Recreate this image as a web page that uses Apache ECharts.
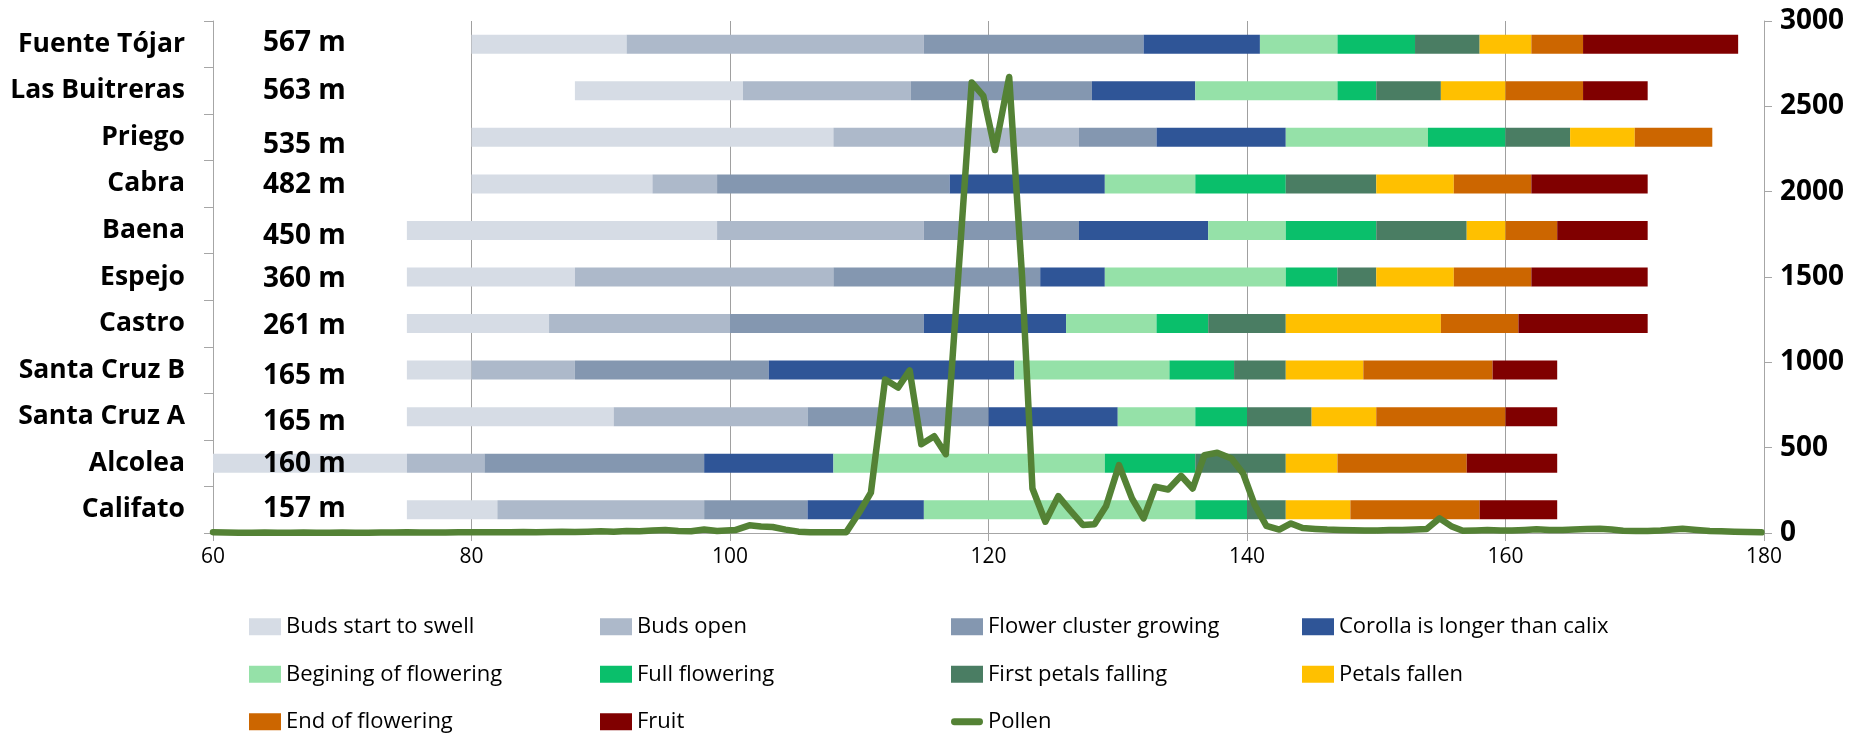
<!DOCTYPE html>
<html><head><meta charset="utf-8">
<script src="https://cdn.jsdelivr.net/npm/echarts@6/dist/echarts.min.js"></script>
<style>html,body{margin:0;padding:0;background:#fff}#c{width:1870px;height:733px}</style>
</head><body><div id="c"></div>
<script>
// ---- data ----
const sites = ['Fuente Tójar','Las Buitreras','Priego','Cabra','Baena','Espejo','Castro','Santa Cruz B','Santa Cruz A','Alcolea','Califato'];
const altitudes = ['567 m','563 m','535 m','482 m','450 m','360 m','261 m','165 m','165 m','160 m','157 m'];
const startDay = [80, 88, 80, 80, 75, 75, 75, 75, 75, 55, 75];
const stageNames = ['Buds start to swell','Buds open','Flower cluster growing','Corolla is longer than calix','Begining of flowering','Full flowering','First petals falling','Petals fallen','End of flowering','Fruit'];
const budsSwell      = [12,13,28,14,24,13,11, 5,16,20, 7];
const budsOpen       = [23,13,19, 5,16,20,14, 8,15, 6,16];
const clusterGrowing = [17,14, 6,18,12,16,15,15,14,17, 8];
const corollaLonger  = [ 9, 8,10,12,10, 5,11,19,10,10, 9];
const beginFlowering = [ 6,11,11, 7, 6,14, 7,12, 6,21,21];
const fullFlowering  = [ 6, 3, 6, 7, 7, 4, 4, 5, 4, 7, 4];
const firstPetals    = [ 5, 5, 5, 7, 7, 3, 6, 4, 5, 7, 3];
const petalsFallen   = [ 4, 5, 5, 6, 3, 6,12, 6, 5, 4, 5];
const endFlowering   = [ 4, 6, 6, 6, 4, 6, 6,10,10,10,10];
const fruit          = [12, 5, 0, 9, 7, 9,10, 5, 4, 7, 6];
const pollenDay = [60,61,62,63,64,65,66,67,68,69,70,71,72,73,74,75,76,77,78,79,80,81,82,83,84,85,86,87,88,89,90,91,92,93,94,95,96,97,98,99,
  100.4,101.5,102.4,103.3,104.3,105.3,106.2,107.2,108.1,109.0,110.0,110.9,112.0,113.0,113.9,114.8,115.8,116.7,117.7,118.7,119.6,120.5,121.6,122.6,123.4,124.4,125.4,126.3,127.3,128.2,129.1,130.1,131.1,132.0,132.9,133.9,134.9,135.8,136.7,137.7,138.8,139.7,140.6,141.5,142.5,143.4,144.3,145.3,146.2,147.2,148.2,149.1,150.1,151.0,152.0,153.0,153.9,154.9,155.8,156.7,157.7,158.6,159.6,160.5,161.5,162.4,163.4,164.4,165.3,166.3,167.3,168.2,169.1,170.1,171.0,172.0,172.9,173.7,174.8,175.8,176.7,177.7,178.7,179.8];
const pollenValue = [5,3,2,2,3,2,2,3,2,2,3,2,2,3,3,4,3,3,3,4,4,4,5,4,6,5,6,8,6,8,10,8,12,10,14,18,12,10,20,12,
  17,45,38,35,20,8,5,5,5,5,120,236,900,852,953,520,567,462,1550,2640,2561,2244,2672,1500,261,66,216,134,47,51,158,398,203,86,271,255,335,261,456,470,437,349,164,42,20,56,29,24,20,18,16,15,15,17,18,20,23,86,40,13,15,17,15,15,18,22,18,17,20,23,25,20,13,12,12,15,20,25,18,12,10,8,6,4];
const xTicks = {min: 60, max: 180, interval: 20};
const yTicks = {min: 0, max: 3000, interval: 500};

// ---- style ----
const stageColors = ['#d6dce5','#adb9ca','#8497b0','#2f5597','#95e1a8','#0abf6b','#4a7d63','#ffc000','#cc6600','#800000'];
const pollenColor = '#548235';
const altLabelShift = [-1,0,8,1,6,2,2,6,5,1,-1];
const FF = "'Open Sans', sans-serif";
const axisGrey = '#a6a6a6';

const stageData = [budsSwell, budsOpen, clusterGrowing, corollaLonger, beginFlowering, fullFlowering, firstPetals, petalsFallen, endFlowering, fruit];

const rich = {};
altLabelShift.forEach((s, i) => {
  rich['a' + i] = {fontFamily: FF, fontSize: 28, fontWeight: 'bold', color: '#000',
    padding: s >= 0 ? [2 * s, 0, 0, 0] : [0, 0, -2 * s, 0]};
});

const series = [{
  name: '_start', type: 'bar', stack: 'p', barWidth: 19, silent: true,
  itemStyle: {color: 'rgba(0,0,0,0)'}, data: startDay, xAxisIndex: 0, yAxisIndex: 0
}];
stageNames.forEach((n, i) => {
  series.push({name: n, type: 'bar', stack: 'p', barWidth: 19, xAxisIndex: 0, yAxisIndex: 0,
    itemStyle: {color: stageColors[i]}, data: stageData[i], clip: true});
});
series.push({
  name: 'Pollen', type: 'line', xAxisIndex: 0, yAxisIndex: 2, symbol: 'none', z: 20,
  lineStyle: {color: pollenColor, width: 6.5, cap: 'round', join: 'round'},
  itemStyle: {color: pollenColor},
  data: pollenDay.map((d, i) => [d, pollenValue[i]])
});

const chart = echarts.init(document.getElementById('c'), null, {renderer: 'canvas'});
chart.setOption({
  animation: false,
  grid: {left: 213, right: 106, top: 21, bottom: 200},
  xAxis: [{
    type: 'value', min: xTicks.min, max: xTicks.max, interval: xTicks.interval,
    axisLine: {show: true, lineStyle: {color: axisGrey}},
    axisTick: {show: true, length: 8, lineStyle: {color: axisGrey}},
    splitLine: {show: true, lineStyle: {color: '#a0a0a0', width: 1}},
    axisLabel: {fontFamily: FF, fontSize: 21, color: '#000', margin: 14}
  }],
  yAxis: [{
    type: 'category', data: sites, inverse: true, position: 'left',
    axisLine: {show: true, lineStyle: {color: axisGrey}},
    axisTick: {show: true, length: 9, lineStyle: {color: axisGrey}},
    axisLabel: {fontFamily: FF, fontSize: 26.5, fontWeight: 'bold', color: '#000', margin: 28}
  }, {
    type: 'category', data: altitudes, inverse: true, position: 'left', z: 30,
    axisLine: {show: false}, axisTick: {show: false}, splitLine: {show: false},
    axisLabel: {inside: true, margin: 50, formatter: (v, i) => '{a' + i + '|' + v + '}', rich: rich}
  }, {
    type: 'value', position: 'right', min: yTicks.min, max: yTicks.max, interval: yTicks.interval,
    axisLine: {show: true, lineStyle: {color: axisGrey}},
    axisTick: {show: true, length: 8, lineStyle: {color: axisGrey}},
    splitLine: {show: false},
    axisLabel: {fontFamily: FF, fontSize: 28, fontWeight: 'bold', color: '#000', margin: 16,
      formatter: v => String(v)}
  }],
  legend: {
    left: 244, top: 603, width: 1420, itemWidth: 32, itemHeight: 17, itemGap: 10,
    selectedMode: false,
    textStyle: {fontFamily: FF, fontSize: 22, color: '#000', width: 304, lineHeight: 37.5},
    data: stageNames.map(n => ({name: n, icon: 'rect'})).concat([{name: 'Pollen', icon: 'path://M3,0 L29,0 A3.5,3.5 0 0 1 29,7 L3,7 A3.5,3.5 0 0 1 3,0 Z'}])
  },
  series: series
});
</script></body></html>
